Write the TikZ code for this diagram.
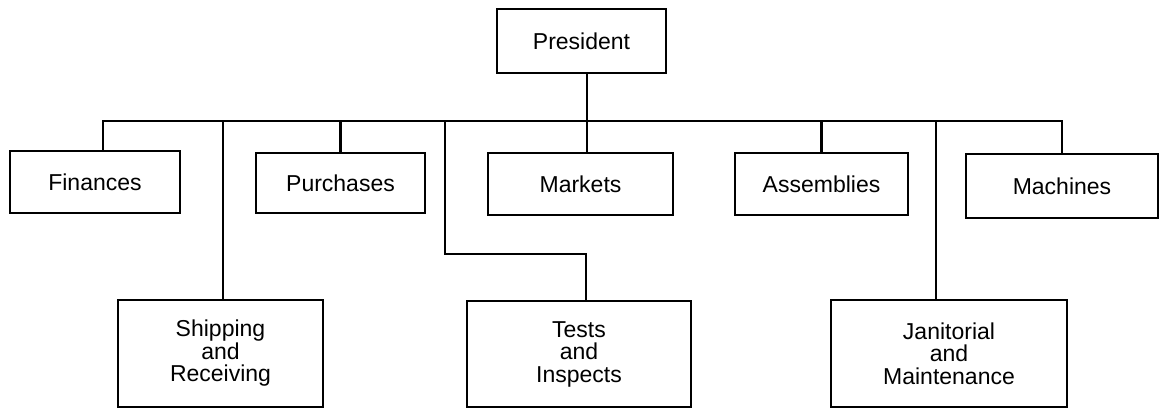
\documentclass[tikz,border=0pt]{standalone}
\usepackage{fontspec}
\setmainfont{Liberation Sans}
\usetikzlibrary{positioning}

\begin{document}
\begin{tikzpicture}[x=1pt, y=-1pt, line width=2.5pt,
  unit node/.style={rectangle, draw, inner sep=0pt, align=center, font=\fontsize{23}{22.5}\selectfont}]

  \useasboundingbox (0,0) rectangle (1161,411);

  % Define nodes
  \node[unit node, minimum width=169pt, minimum height=64pt] (pres) at (581.5,41) {President};

  \node[unit node, minimum width=170pt, minimum height=62pt] (fin) at (95,182) {Finances};
  \node[unit node, minimum width=169pt, minimum height=60pt] (purch) at (340.5,183) {Purchases};
  \node[unit node, minimum width=185pt, minimum height=62pt] (mark) at (580.5,184) {Markets};
  \node[unit node, minimum width=173pt, minimum height=62pt] (assem) at (821.5,184) {Assemblies};
  \node[unit node, minimum width=192pt, minimum height=64pt] (mach) at (1062,186) {Machines};

  \node[unit node, minimum width=205pt, minimum height=107pt] (ship) at (220.5,353.5) {Shipping\\and\\Receiving};
  \node[unit node, minimum width=224pt, minimum height=106pt] (tests) at (579,354) {Tests\\and\\Inspects};
  \node[unit node, minimum width=236pt, minimum height=107pt] (jan) at (949,353.5) {Janitorial\\and\\Maintenance};

  \coordinate (bus) at (1062,121);
  \coordinate (jog) at (445,254);

  % Define edges
  \draw ([xshift=8pt]fin.north) |- (bus) -- (mach.north);
  \draw ([xshift=5.5pt]pres.south) -- ([xshift=5.5pt]pres.south |- mark.north);
  \draw (purch.north) -- (purch.north |- bus);
  \draw (assem.north) -- (assem.north |- bus);
  \draw ([xshift=2.5pt]ship.north) -- ([xshift=2.5pt]ship.north |- bus);
  \draw ([xshift=7pt]tests.north) |- (jog) -- (jog |- bus);
  \draw ([xshift=-13pt]jan.north) -- ([xshift=-13pt]jan.north |- bus);
\end{tikzpicture}
\end{document}
